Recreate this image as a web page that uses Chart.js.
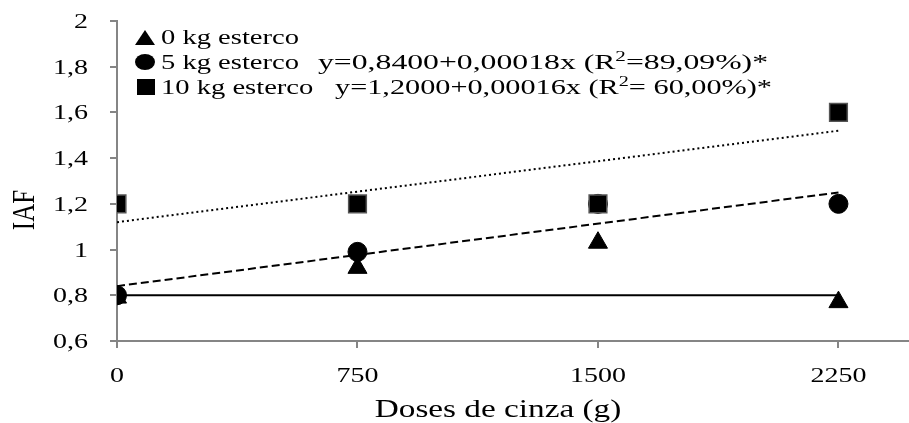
<!DOCTYPE html>
<html lang="pt">
<head>
    <meta charset="UTF-8">
    <title>IAF x Doses de cinza</title>
    <script src="https://cdn.jsdelivr.net/npm/chart.js@4.4.1/dist/chart.umd.js"></script>
    <style>
        html, body { margin: 0; padding: 0; background: #fff; }
        #wrap { width: 909px; height: 423px; }
    </style>
</head>
<body>
    <div id="wrap"><canvas id="chart" width="909" height="423"></canvas></div>
    <script>
        // data
        const doses = [0, 750, 1500, 2250];
        const iaf0 = [0.79, 0.92, 1.03, 0.77];
        const iaf5 = [0.80, 0.99, 1.20, 1.20];
        const iaf10 = [1.20, 1.20, 1.20, 1.60];
        const trendX = [0, 2250];
        const trend0 = [0.80, 0.80];
        const trend5 = [0.84, 1.25];
        const trend10 = [1.12, 1.52];
        const xTicks = [0, 750, 1500, 2250];
        const yTicks = [0.6, 0.8, 1, 1.2, 1.4, 1.6, 1.8, 2];
        const xTitle = 'Doses de cinza (g)';
        const yTitle = 'IAF';

        const serif = "'Liberation Serif', 'Times New Roman', serif";
        const pts = (xs, ys) => xs.map((x, i) => ({ x: x, y: ys[i] }));
        const fmt = v => String(Math.round(v * 10) / 10).replace('.', ',');
        const SX = 1.4; // the original figure is stretched sideways

        // draw text stretched horizontally; align: 'left' | 'center' | 'right'
        function wideText(ctx, txt, x, y, size, sx, align) {
            ctx.font = size + 'px ' + serif;
            const w = ctx.measureText(txt).width * sx;
            let x0 = x;
            if (align === 'center') x0 = x - w / 2;
            if (align === 'right') x0 = x - w;
            ctx.save();
            ctx.translate(x0, y);
            ctx.scale(sx, 1);
            ctx.textAlign = 'left';
            ctx.fillText(txt, 0, 0);
            ctx.restore();
            return w;
        }

        const legendRows = [
            { style: 'triangle', y: 38, base: 44, name: '0 kg esterco' },
            { style: 'circle', y: 62, base: 69, name: '5 kg esterco', eq: ['y=0,8400+0,00018x (R', '2', '=89,09%)*'], eqX: 318, eqEnd: 768 },
            { style: 'rect', y: 87, base: 94, name: '10 kg esterco', eq: ['y=1,2000+0,00016x (R', '2', '= 60,00%)*'], eqX: 335, eqEnd: 772 }
        ];

        const textPlugin = {
            id: 'wideTexts',
            afterDraw(chart) {
                const ctx = chart.ctx;
                const xs = chart.scales.x, ys = chart.scales.y;
                ctx.save();
                ctx.fillStyle = '#000';
                ctx.textBaseline = 'alphabetic';

                // tick labels, positioned by the scales
                xs.ticks.forEach(t => {
                    wideText(ctx, String(t.value), xs.getPixelForValue(t.value), 382, 20, SX, 'center');
                });
                ys.ticks.forEach(t => {
                    wideText(ctx, fmt(t.value), 88, ys.getPixelForValue(t.value) + 7, 20, SX, 'right');
                });

                // axis titles
                wideText(ctx, xTitle, 498, 417, 25, 1.33, 'center');
                ctx.save();
                ctx.translate(34, 210);
                ctx.rotate(-Math.PI / 2);
                ctx.scale(1, 1.3);
                ctx.font = '25px ' + serif;
                ctx.textAlign = 'center';
                ctx.fillText(yTitle, 0, 0);
                ctx.restore();

                // legend with equations
                legendRows.forEach(row => {
                    ctx.beginPath();
                    if (row.style === 'triangle') {
                        ctx.moveTo(145, row.y - 8);
                        ctx.lineTo(155, row.y + 7);
                        ctx.lineTo(135, row.y + 7);
                        ctx.closePath();
                    } else if (row.style === 'circle') {
                        ctx.ellipse(145, row.y, 10, 8, 0, 0, Math.PI * 2);
                    } else {
                        ctx.rect(137, row.y - 8, 18, 16);
                    }
                    ctx.fill();
                    wideText(ctx, row.name, 161, row.base, 21, 1.36, 'left');
                    if (row.eq) {
                        ctx.font = '21px ' + serif;
                        let nat = ctx.measureText(row.eq[0]).width + ctx.measureText(row.eq[2]).width;
                        ctx.font = '14px ' + serif;
                        nat += ctx.measureText(row.eq[1]).width;
                        const sx = (row.eqEnd - row.eqX) / nat;
                        let x = row.eqX;
                        x += wideText(ctx, row.eq[0], x, row.base, 21, sx, 'left');
                        x += wideText(ctx, row.eq[1], x, row.base - 8, 14, sx, 'left');
                        wideText(ctx, row.eq[2], x, row.base, 21, sx, 'left');
                    }
                });
                ctx.restore();
            }
        };

        const axisColor = '#858585';
        const hidden = 'rgba(0,0,0,0)';

        new Chart(document.getElementById('chart'), {
            type: 'scatter',
            data: {
                datasets: [
                    {
                        label: '10 kg esterco',
                        data: pts(doses, iaf10),
                        pointStyle: 'rect',
                        pointRadius: 12.5,
                        backgroundColor: '#000',
                        borderColor: '#555',
                        borderWidth: 1.5,
                        order: 1
                    },
                    {
                        label: '5 kg esterco',
                        data: pts(doses, iaf5),
                        pointStyle: 'circle',
                        pointRadius: 9.5,
                        backgroundColor: '#000',
                        borderColor: '#000',
                        order: 2
                    },
                    {
                        label: '0 kg esterco',
                        data: pts(doses, iaf0),
                        pointStyle: 'triangle',
                        pointRadius: 11,
                        backgroundColor: '#000',
                        borderColor: '#000',
                        order: 3
                    },
                    {
                        label: 'tend 0',
                        data: pts(trendX, trend0),
                        showLine: true,
                        pointRadius: 0,
                        borderColor: '#000',
                        borderWidth: 2,
                        order: 4
                    },
                    {
                        label: 'tend 5',
                        data: pts(trendX, trend5),
                        showLine: true,
                        pointRadius: 0,
                        borderColor: '#000',
                        borderWidth: 2,
                        borderDash: [8, 4],
                        order: 5
                    },
                    {
                        label: 'tend 10',
                        data: pts(trendX, trend10),
                        showLine: true,
                        pointRadius: 0,
                        borderColor: '#000',
                        borderWidth: 2,
                        borderDash: [2, 3],
                        order: 6
                    }
                ]
            },
            options: {
                responsive: false,
                animation: false,
                devicePixelRatio: 1,
                layout: { autoPadding: false, padding: { top: 21, right: 0, left: 0, bottom: 0 } },
                plugins: {
                    legend: { display: false },
                    tooltip: { enabled: false }
                },
                scales: {
                    x: {
                        type: 'linear',
                        min: 0,
                        max: 2470,
                        afterBuildTicks: s => { s.ticks = xTicks.map(v => ({ value: v })); },
                        afterFit: s => { s.height = 82; s.paddingRight = 0; s.paddingLeft = 0; },
                        grid: { drawOnChartArea: false, drawTicks: true, tickLength: 7, color: axisColor, lineWidth: 2 },
                        border: { color: axisColor, width: 2 },
                        ticks: { color: hidden, font: { family: serif, size: 20 }, maxRotation: 0 }
                    },
                    y: {
                        min: 0.6,
                        max: 2,
                        afterBuildTicks: s => { s.ticks = yTicks.map(v => ({ value: v })); },
                        afterFit: s => { s.width = 117; s.paddingTop = 0; s.paddingBottom = 0; },
                        grid: { drawOnChartArea: false, drawTicks: true, tickLength: 7, color: axisColor, lineWidth: 2 },
                        border: { color: axisColor, width: 2 },
                        ticks: { color: hidden, font: { family: serif, size: 20 }, callback: v => fmt(v) }
                    }
                }
            },
            plugins: [textPlugin]
        });
    </script>
</body>
</html>
